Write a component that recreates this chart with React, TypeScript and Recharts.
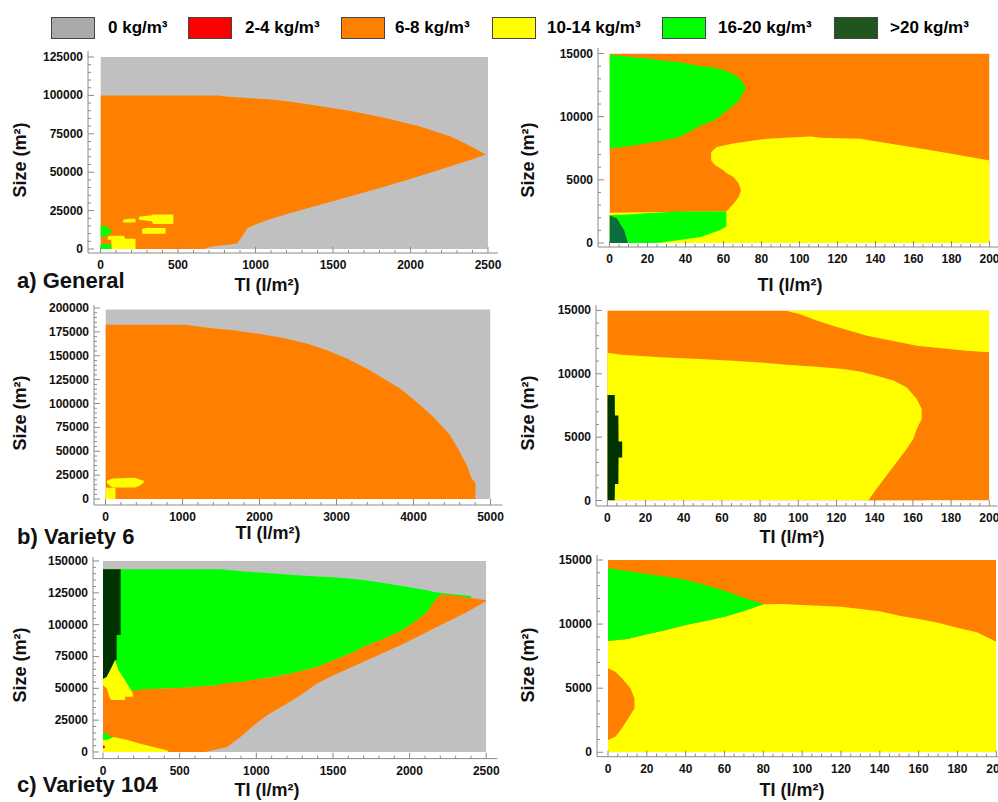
import React from 'react'
import { ComposedChart, Area, XAxis, YAxis } from 'recharts'

// colours of the legend classes
const GRAY = '#c0c0c0'
const RED = '#ff0000'
const ORANGE = '#ff8000'
const YELLOW = '#ffff00'
const GREEN = '#00ff00'
const DARK = '#003300'
const DARK_A = '#0a6e3c'

type Row = [number, number, number] // x, low, high

// ---- a) General, left (TI 0-2500)
const aGray: Row[] = [[0, 0, 125000], [2500, 0, 125000]]
const aOrange: Row[] = [
  [0, 0, 100000], [668, 0, 100000], [700, 1200, 100000], [765, 2200, 99900], [800, 2500, 99300],
  [880, 3500, 98800], [900, 6000, 98600], [950, 13600, 98300], [1000, 16000, 98000], [1080, 19000, 97500],
  [1230, 23600, 95800], [1400, 28400, 93200], [1615, 34300, 89800], [1830, 40600, 85400],
  [2050, 47200, 80000], [2260, 53800, 73200], [2370, 57500, 67800], [2478, 61200, 62000],
]
const aYellow1: Row[] = [[47, 6000, 8200], [70, 6000, 8600], [71, 0, 8600], [150, 0, 8600], [160, 0, 6600], [226, 0, 6600]]
const aYellow2: Row[] = [[146, 17300, 19000], [180, 17300, 19700], [226, 17300, 19700]]
const aYellow3: Row[] = [[248, 19000, 21000], [330, 18000, 22000], [340, 16200, 22500], [470, 16200, 22500]]
const aYellow4: Row[] = [[268, 10000, 13000], [300, 10000, 13600], [420, 10000, 13600]]
const aGreen1: Row[] = [[0, 7800, 15300], [35, 8200, 15000], [50, 9500, 13500], [70, 10500, 12500]]
const aGreen2: Row[] = [[0, 0, 3300], [60, 0, 3300], [70, 500, 2500]]

// ---- a) General, right (TI 0-200)
const arOrange: Row[] = [[0, 0, 15000], [200, 0, 15000]]
const arYellow: Row[] = [
  [0, 0, 2400], [53.5, 0, 2500], [53.5, 0, 7200], [56.5, 0, 7600], [65, 0, 7870], [83, 0, 8260],
  [100, 0, 8390], [106, 0, 8440], [111, 0, 8340], [132, 0, 8260], [153, 0, 7730], [171, 0, 7300], [200, 0, 6540],
]
const arBulge: Row[] = [[52.5, 2400, 6540], [53.5, 2500, 6540], [55.6, 2500, 6150], [60, 2500, 5750], [61.5, 2500, 5550], [65.3, 3110, 5220], [68, 3640, 4700], [69.2, 4170, 4170]]
const arGreenTop: Row[] = [
  [0, 7500, 14900], [7, 7600, 14800], [12, 7700, 14700], [20, 7900, 14600], [27, 8100, 14450], [37, 8400, 14300],
  [48, 9300, 14000], [55, 9700, 13900], [62, 10500, 13600], [67, 11100, 13200], [69, 11500, 12900], [71.5, 12200, 12400],
]
const arGreenBot: Row[] = [[0, 0, 2200], [10, 0, 2250], [21, 0, 2370], [25, 0, 2400], [35, 200, 2500], [48, 470, 2500], [58, 1000, 2500], [61.5, 1300, 2500]]
const arDark: Row[] = [[0, 0, 2190], [3.9, 0, 1930], [7.7, 0, 1000], [9.7, 0, 0]]

// ---- b) Variety 6, left (TI 0-5000)
const bGray: Row[] = [[0, 0, 198500], [5000, 0, 198500]]
const bOrange: Row[] = [
  [0, 0, 182500], [1040, 0, 182500], [1320, 0, 179400], [1660, 0, 176600], [1970, 0, 173200], [2310, 0, 168600],
  [2615, 0, 162700], [2875, 0, 155700], [3135, 0, 147000], [3390, 0, 136600], [3610, 0, 126100], [3825, 0, 115700],
  [4040, 0, 101700], [4255, 0, 86000], [4475, 0, 67000], [4600, 0, 49500], [4690, 0, 35500], [4755, 0, 21600], [4805, 0, 16400],
]
const bYellow1: Row[] = [[0, 0, 11800], [130, 0, 11800]]
const bYellow2: Row[] = [[20, 16500, 19000], [90, 12000, 21500], [380, 12000, 22300], [440, 14000, 20500], [497, 17000, 19000]]

// ---- b) Variety 6, right (TI 0-200)
const brOrange: Row[] = [[0, 0, 15000], [200, 0, 15000]]
const brYellowTop: Row[] = [
  [93, 15000, 15000], [101, 14700, 15000], [110, 14190, 15000], [118, 13790, 15000], [127, 13400, 15000],
  [136, 13000, 15000], [144.5, 12740, 15000], [153, 12480, 15000], [162, 12210, 15000], [171, 12080, 15000],
  [179, 11950, 15000], [188, 11820, 15000], [200, 11690, 15000],
]
const brYellow: Row[] = [
  [0, 0, 11650], [7.5, 0, 11500], [27.6, 0, 11300], [48.5, 0, 11170], [66, 0, 11030], [83.4, 0, 10850],
  [95.6, 0, 10690], [109.6, 0, 10560], [123.6, 0, 10380], [132.3, 0, 10170], [141, 0, 9850], [149.7, 0, 9460],
  [156.7, 0, 8930], [162, 0, 8010], [164.6, 0, 7220],
]
const brBulge: Row[] = [[136.6, 0, 0], [141, 0, 920], [146.2, 0, 1970], [151.5, 0, 3020], [156.7, 0, 4070], [160.2, 0, 4860], [162, 0, 5650], [164.6, 0, 6430], [166, 0, 6430]]
const brDark: Row[] = [[0, 0, 8330], [3.9, 0, 8330], [4, 1300, 6700], [5.8, 1300, 6700], [5.9, 3400, 4650], [7.8, 3400, 4650]]

// ---- c) Variety 104, left (TI 0-2500)
const cGray: Row[] = [[0, 0, 150000], [2500, 0, 150000]]
const cGreen: Row[] = [
  [0, 47900, 143500], [196, 47900, 143500], [350, 49700, 143500], [526, 50500, 143500], [765, 52600, 143500],
  [900, 55000, 142000], [1026, 57300, 140900], [1222, 61500, 139200], [1396, 66800, 137900], [1504, 72000, 137200],
  [1635, 78500, 135800], [1722, 83800, 134600], [1830, 89000, 132700], [1940, 94800, 130600], [2048, 103400, 128400],
  [2113, 110000, 127000], [2167, 117000, 125400], [2250, 121500, 124200], [2400, 120500, 122500],
]
const cOrange: Row[] = [
  [0, 0, 52400], [196, 0, 47900], [243, 0, 49000], [352, 0, 49700], [526, 0, 50500], [667, 0, 51800],
  [743, 2100, 52400], [809, 3900, 54100], [896, 11800, 55000], [983, 20900, 57000], [1070, 28800, 58100],
  [1200, 38000, 61000], [1287, 44500, 63500], [1396, 53700, 66800], [1504, 60200, 72000], [1635, 67300, 78500],
  [1722, 72000, 83800], [1830, 77900, 89000], [1939, 83800, 94800], [2048, 90400, 103400], [2113, 94300, 110000],
  [2157, 96900, 118000], [2200, 99500, 123500], [2260, 103000, 123500], [2374, 110000, 121500], [2500, 118600, 119200],
]
const cYellowSpike: Row[] = [
  [0, 52400, 57300], [24, 50000, 59000], [45, 42000, 64000], [57, 40800, 67000], [78, 40800, 72200],
  [100, 40800, 64400], [143, 40800, 56500], [145, 43400, 56000], [176, 43400, 50000], [194, 43400, 46100],
]
const cDark: Row[] = [[0, 57300, 143500], [24, 59000, 143500], [57, 67000, 143500], [78, 72200, 143500], [89, 72200, 143500], [89.5, 91800, 143500], [115, 91800, 143500]]
const cGreenSmall: Row[] = [[0, 9400, 15500], [20, 9600, 14500], [45, 10500, 12500], [67, 11500, 11800]]
const cYellowLow: Row[] = [[0, 0, 9400], [70, 0, 11800], [156, 0, 9700], [243, 0, 6500], [330, 0, 3900], [417, 0, 1300], [430, 0, 0]]
const cRed: Row[] = [[0, 2800, 5200], [12, 3200, 4800]]

// ---- c) Variety 104, right (TI 0-200)
const crOrange: Row[] = [[0, 0, 15000], [200, 0, 15000]]
const crYellow: Row[] = [
  [0, 0, 8680], [10, 0, 8840], [20, 0, 9200], [30, 0, 9540], [40, 0, 9930], [50, 0, 10240], [60, 0, 10580],
  [70, 0, 11020], [80, 0, 11540], [90, 0, 11570], [100, 0, 11490], [120, 0, 11360], [140, 0, 11000],
  [150, 0, 10660], [160, 0, 10400], [170, 0, 10110], [180, 0, 9720], [190, 0, 9360], [200, 0, 8630],
]
const crBulge: Row[] = [[0, 960, 6550], [3.8, 1220, 6290], [7.2, 1870, 5770], [11.5, 2900, 4990], [13.6, 3430, 4210]]
const crGreen: Row[] = [
  [0, 8680, 14350], [10, 8840, 14150], [20, 9200, 13900], [30, 9540, 13700], [40, 9930, 13450],
  [50, 10240, 13050], [60, 10580, 12600], [70, 11020, 12050], [80, 11540, 11560],
]

// tick labels
const ticksTI2500 = [0, 500, 1000, 1500, 2000, 2500]
const ticksTI5000 = [0, 1000, 2000, 3000, 4000, 5000]
const ticksTI200 = [0, 20, 40, 60, 80, 100, 120, 140, 160, 180, 200]
const ticksSize125k = [0, 25000, 50000, 75000, 100000, 125000]
const ticksSize200k = [0, 25000, 50000, 75000, 100000, 125000, 150000, 175000, 200000]
const ticksSize150k = [0, 25000, 50000, 75000, 100000, 125000, 150000]
const ticksSize15k = [0, 5000, 10000, 15000]

const legendItems = [
  { label: '0 kg/m³', color: '#aaaaaa' },
  { label: '2-4 kg/m³', color: RED },
  { label: '6-8 kg/m³', color: '#ff7f00' },
  { label: '10-14 kg/m³', color: YELLOW },
  { label: '16-20 kg/m³', color: GREEN },
  { label: '>20 kg/m³', color: '#1e561e' },
]

const FONT = '"Liberation Sans", Arial, sans-serif'

function steps(max: number, step: number) {
  const out: number[] = []
  for (let v = 0; v <= max + 1e-9; v += step) out.push(Math.round(v * 1000) / 1000)
  return out
}

type Side = 'left' | 'right' | 'top' | 'bottom'

function makeTick(side: Side, majors: number[], labels: boolean) {
  return (p: any) => {
    const v = p.payload.value
    const x = p.x
    const y = p.y
    const major = majors.some((m) => Math.abs(m - v) < 1e-6)
    const len = major ? 6 : 3
    let x2 = x
    let y2 = y
    if (side === 'left') x2 = x + len
    if (side === 'right') x2 = x - len
    if (side === 'bottom') y2 = y - len
    if (side === 'top') y2 = y + len
    return (
      <g>
        <line x1={x} y1={y} x2={x2} y2={y2} stroke="#8a8a8a" strokeWidth={1} />
        {labels && major && side === 'left' && (
          <text x={x - 5} y={y + 4} textAnchor="end" fontSize={12} fontWeight="bold" fill="#111" fontFamily={FONT}>
            {v}
          </text>
        )}
        {labels && major && side === 'bottom' && (
          <text x={x} y={y + 16} textAnchor="middle" fontSize={12} fontWeight="bold" fill="#111" fontFamily={FONT}>
            {v}
          </text>
        )}
      </g>
    )
  }
}

interface Layer {
  rows: Row[]
  color: string
}

interface PanelCfg {
  fl: number
  fr: number
  ft: number
  fb: number
  pad: { l: number; r: number; t: number; b: number }
  xMax: number
  yMax: number
  xTicks: number[]
  xMinor: number
  yTicks: number[]
  yMinor: number
  layers: Layer[]
}

const panels: PanelCfg[] = [
  {
    fl: 88, fr: 498, ft: 51, fb: 253, pad: { l: 12.5, r: 10, t: 6, b: 4 },
    xMax: 2500, yMax: 125000, xTicks: ticksTI2500, xMinor: 100, yTicks: ticksSize125k, yMinor: 5000,
    layers: [
      { rows: aGray, color: GRAY }, { rows: aOrange, color: ORANGE },
      { rows: aYellow1, color: YELLOW }, { rows: aYellow2, color: YELLOW }, { rows: aYellow3, color: YELLOW }, { rows: aYellow4, color: YELLOW },
      { rows: aGreen1, color: GREEN }, { rows: aGreen2, color: GREEN },
    ],
  },
  {
    fl: 597.5, fr: 997.5, ft: 48, fb: 247, pad: { l: 11.5, r: 8.5, t: 5.5, b: 4 },
    xMax: 200, yMax: 15000, xTicks: ticksTI200, xMinor: 5, yTicks: ticksSize15k, yMinor: 1000,
    layers: [
      { rows: arOrange, color: ORANGE }, { rows: arYellow, color: YELLOW }, { rows: arBulge, color: ORANGE },
      { rows: arGreenTop, color: GREEN }, { rows: arGreenBot, color: GREEN }, { rows: arDark, color: DARK_A },
    ],
  },
  {
    fl: 93.5, fr: 502, ft: 305, fb: 505, pad: { l: 11.5, r: 12, t: 3, b: 6 },
    xMax: 5000, yMax: 200000, xTicks: ticksTI5000, xMinor: 200, yTicks: ticksSize200k, yMinor: 5000,
    layers: [
      { rows: bGray, color: GRAY }, { rows: bOrange, color: ORANGE },
      { rows: bYellow1, color: YELLOW }, { rows: bYellow2, color: YELLOW },
    ],
  },
  {
    fl: 596, fr: 997.5, ft: 304.5, fb: 505.5, pad: { l: 11.3, r: 8.2, t: 5.4, b: 5.5 },
    xMax: 200, yMax: 15000, xTicks: ticksTI200, xMinor: 5, yTicks: ticksSize15k, yMinor: 1000,
    layers: [
      { rows: brOrange, color: ORANGE }, { rows: brYellowTop, color: YELLOW }, { rows: brYellow, color: YELLOW },
      { rows: brBulge, color: ORANGE }, { rows: brDark, color: DARK },
    ],
  },
  {
    fl: 92.7, fr: 497, ft: 556.7, fb: 758.3, pad: { l: 10, r: 11, t: 4, b: 6.6 },
    xMax: 2500, yMax: 150000, xTicks: ticksTI2500, xMinor: 100, yTicks: ticksSize150k, yMinor: 5000,
    layers: [
      { rows: cGray, color: GRAY }, { rows: cGreen, color: GREEN }, { rows: cOrange, color: ORANGE },
      { rows: cYellowSpike, color: YELLOW }, { rows: cDark, color: DARK }, { rows: cYellowLow, color: YELLOW },
      { rows: cGreenSmall, color: GREEN }, { rows: cRed, color: RED },
    ],
  },
  {
    fl: 596.7, fr: 1006, ft: 555, fb: 756.7, pad: { l: 11, r: 10, t: 5, b: 4.4 },
    xMax: 200, yMax: 15000, xTicks: ticksTI200, xMinor: 5, yTicks: ticksSize15k, yMinor: 1000,
    layers: [
      { rows: crOrange, color: ORANGE }, { rows: crYellow, color: YELLOW }, { rows: crBulge, color: ORANGE },
      { rows: crGreen, color: GREEN },
    ],
  },
]

// axis titles and panel captions: [centre x, centre y]
const xTitlePos = [[267, 285], [790, 285], [268, 533], [792, 537], [267, 790], [792, 790]]
const yTitlePos = [[20, 160], [528, 160], [20, 413], [528, 413], [20, 665], [528, 665]]
const captions = [
  { text: 'a) General', y: 281 },
  { text: 'b) Variety 6', y: 537 },
  { text: 'c) Variety 104', y: 785 },
]

function Panel({ cfg }: { cfg: PanelCfg }) {
  const yW = 60
  const xH = 26
  const mt = 4
  const mr = 4
  const width = cfg.fr - cfg.fl + yW + mr
  const height = cfg.fb - cfg.ft + mt + xH
  const xAll = steps(cfg.xMax, cfg.xMinor)
  const yAll = steps(cfg.yMax, cfg.yMinor)
  const xPad = { left: cfg.pad.l, right: cfg.pad.r }
  const yPad = { top: cfg.pad.t, bottom: cfg.pad.b }
  const axisLine = { stroke: '#8a8a8a', strokeWidth: 1 }
  return (
    <div style={{ position: 'absolute', left: cfg.fl - yW, top: cfg.ft - mt }}>
      <ComposedChart width={width} height={height} margin={{ top: mt, right: mr, left: 0, bottom: 0 }}>
        <XAxis xAxisId="b" orientation="bottom" type="number" dataKey="x" domain={[0, cfg.xMax]} allowDataOverflow
          ticks={xAll} interval={0} padding={xPad} height={xH} tickSize={0} tickMargin={0} tickLine={false}
          axisLine={axisLine} tick={makeTick('bottom', cfg.xTicks, true)} />
        <XAxis xAxisId="t" orientation="top" type="number" dataKey="x" domain={[0, cfg.xMax]} allowDataOverflow
          ticks={xAll} interval={0} padding={xPad} height={0} tickSize={0} tickMargin={0} tickLine={false}
          axisLine={axisLine} tick={makeTick('top', cfg.xTicks, false)} />
        <YAxis yAxisId="l" orientation="left" type="number" domain={[0, cfg.yMax]} allowDataOverflow
          ticks={yAll} interval={0} padding={yPad} width={yW} tickSize={0} tickMargin={0} tickLine={false}
          axisLine={axisLine} tick={makeTick('left', cfg.yTicks, true)} />
        <YAxis yAxisId="r" orientation="right" type="number" domain={[0, cfg.yMax]} allowDataOverflow
          ticks={yAll} interval={0} padding={yPad} width={0} tickSize={0} tickMargin={0} tickLine={false}
          axisLine={axisLine} tick={makeTick('right', cfg.yTicks, false)} />
        {cfg.layers.map((layer, i) => (
          <Area
            key={i}
            xAxisId="b"
            yAxisId="l"
            data={layer.rows.map(([x, lo, hi]) => ({ x, r: [lo, hi] }))}
            dataKey="r"
            type="linear"
            stroke="none"
            fill={layer.color}
            fillOpacity={1}
            dot={false}
            activeDot={false}
            isAnimationActive={false}
          />
        ))}
      </ComposedChart>
    </div>
  )
}

export default function App() {
  const titleStyle: React.CSSProperties = {
    position: 'absolute', fontFamily: FONT, fontWeight: 'bold', fontSize: 18, lineHeight: 1,
    whiteSpace: 'nowrap', color: '#111',
  }
  return (
    <div style={{ position: 'absolute', left: 0, top: 0, width: 998, height: 802, overflow: 'hidden', background: '#fff' }}>
      {legendItems.map((it, i) => {
        const sw = [51, 188, 341, 492, 662, 834][i]
        const tx = [108, 245, 395, 547, 718, 890][i]
        return (
          <React.Fragment key={it.label}>
            <div style={{ position: 'absolute', left: sw, top: 17, width: 42, height: 20, background: it.color, border: '1px solid #444' }} />
            <div style={{ position: 'absolute', left: tx, top: 19, fontFamily: FONT, fontWeight: 'bold', fontSize: 17, lineHeight: '18px', whiteSpace: 'nowrap' }}>
              {it.label}
            </div>
          </React.Fragment>
        )
      })}
      {panels.map((p, i) => (
        <Panel key={i} cfg={p} />
      ))}
      {xTitlePos.map(([x, y], i) => (
        <div key={'xt' + i} style={{ ...titleStyle, left: x, top: y, transform: 'translate(-50%, -50%)' }}>
          TI (l/m²)
        </div>
      ))}
      {yTitlePos.map(([x, y], i) => (
        <div key={'yt' + i} style={{ ...titleStyle, left: x, top: y, transform: 'translate(-50%, -50%) rotate(-90deg)' }}>
          Size (m²)
        </div>
      ))}
      {captions.map((c) => (
        <div key={c.text} style={{ ...titleStyle, fontSize: 22, left: 17, top: c.y, transform: 'translateY(-50%)' }}>
          {c.text}
        </div>
      ))}
    </div>
  )
}
